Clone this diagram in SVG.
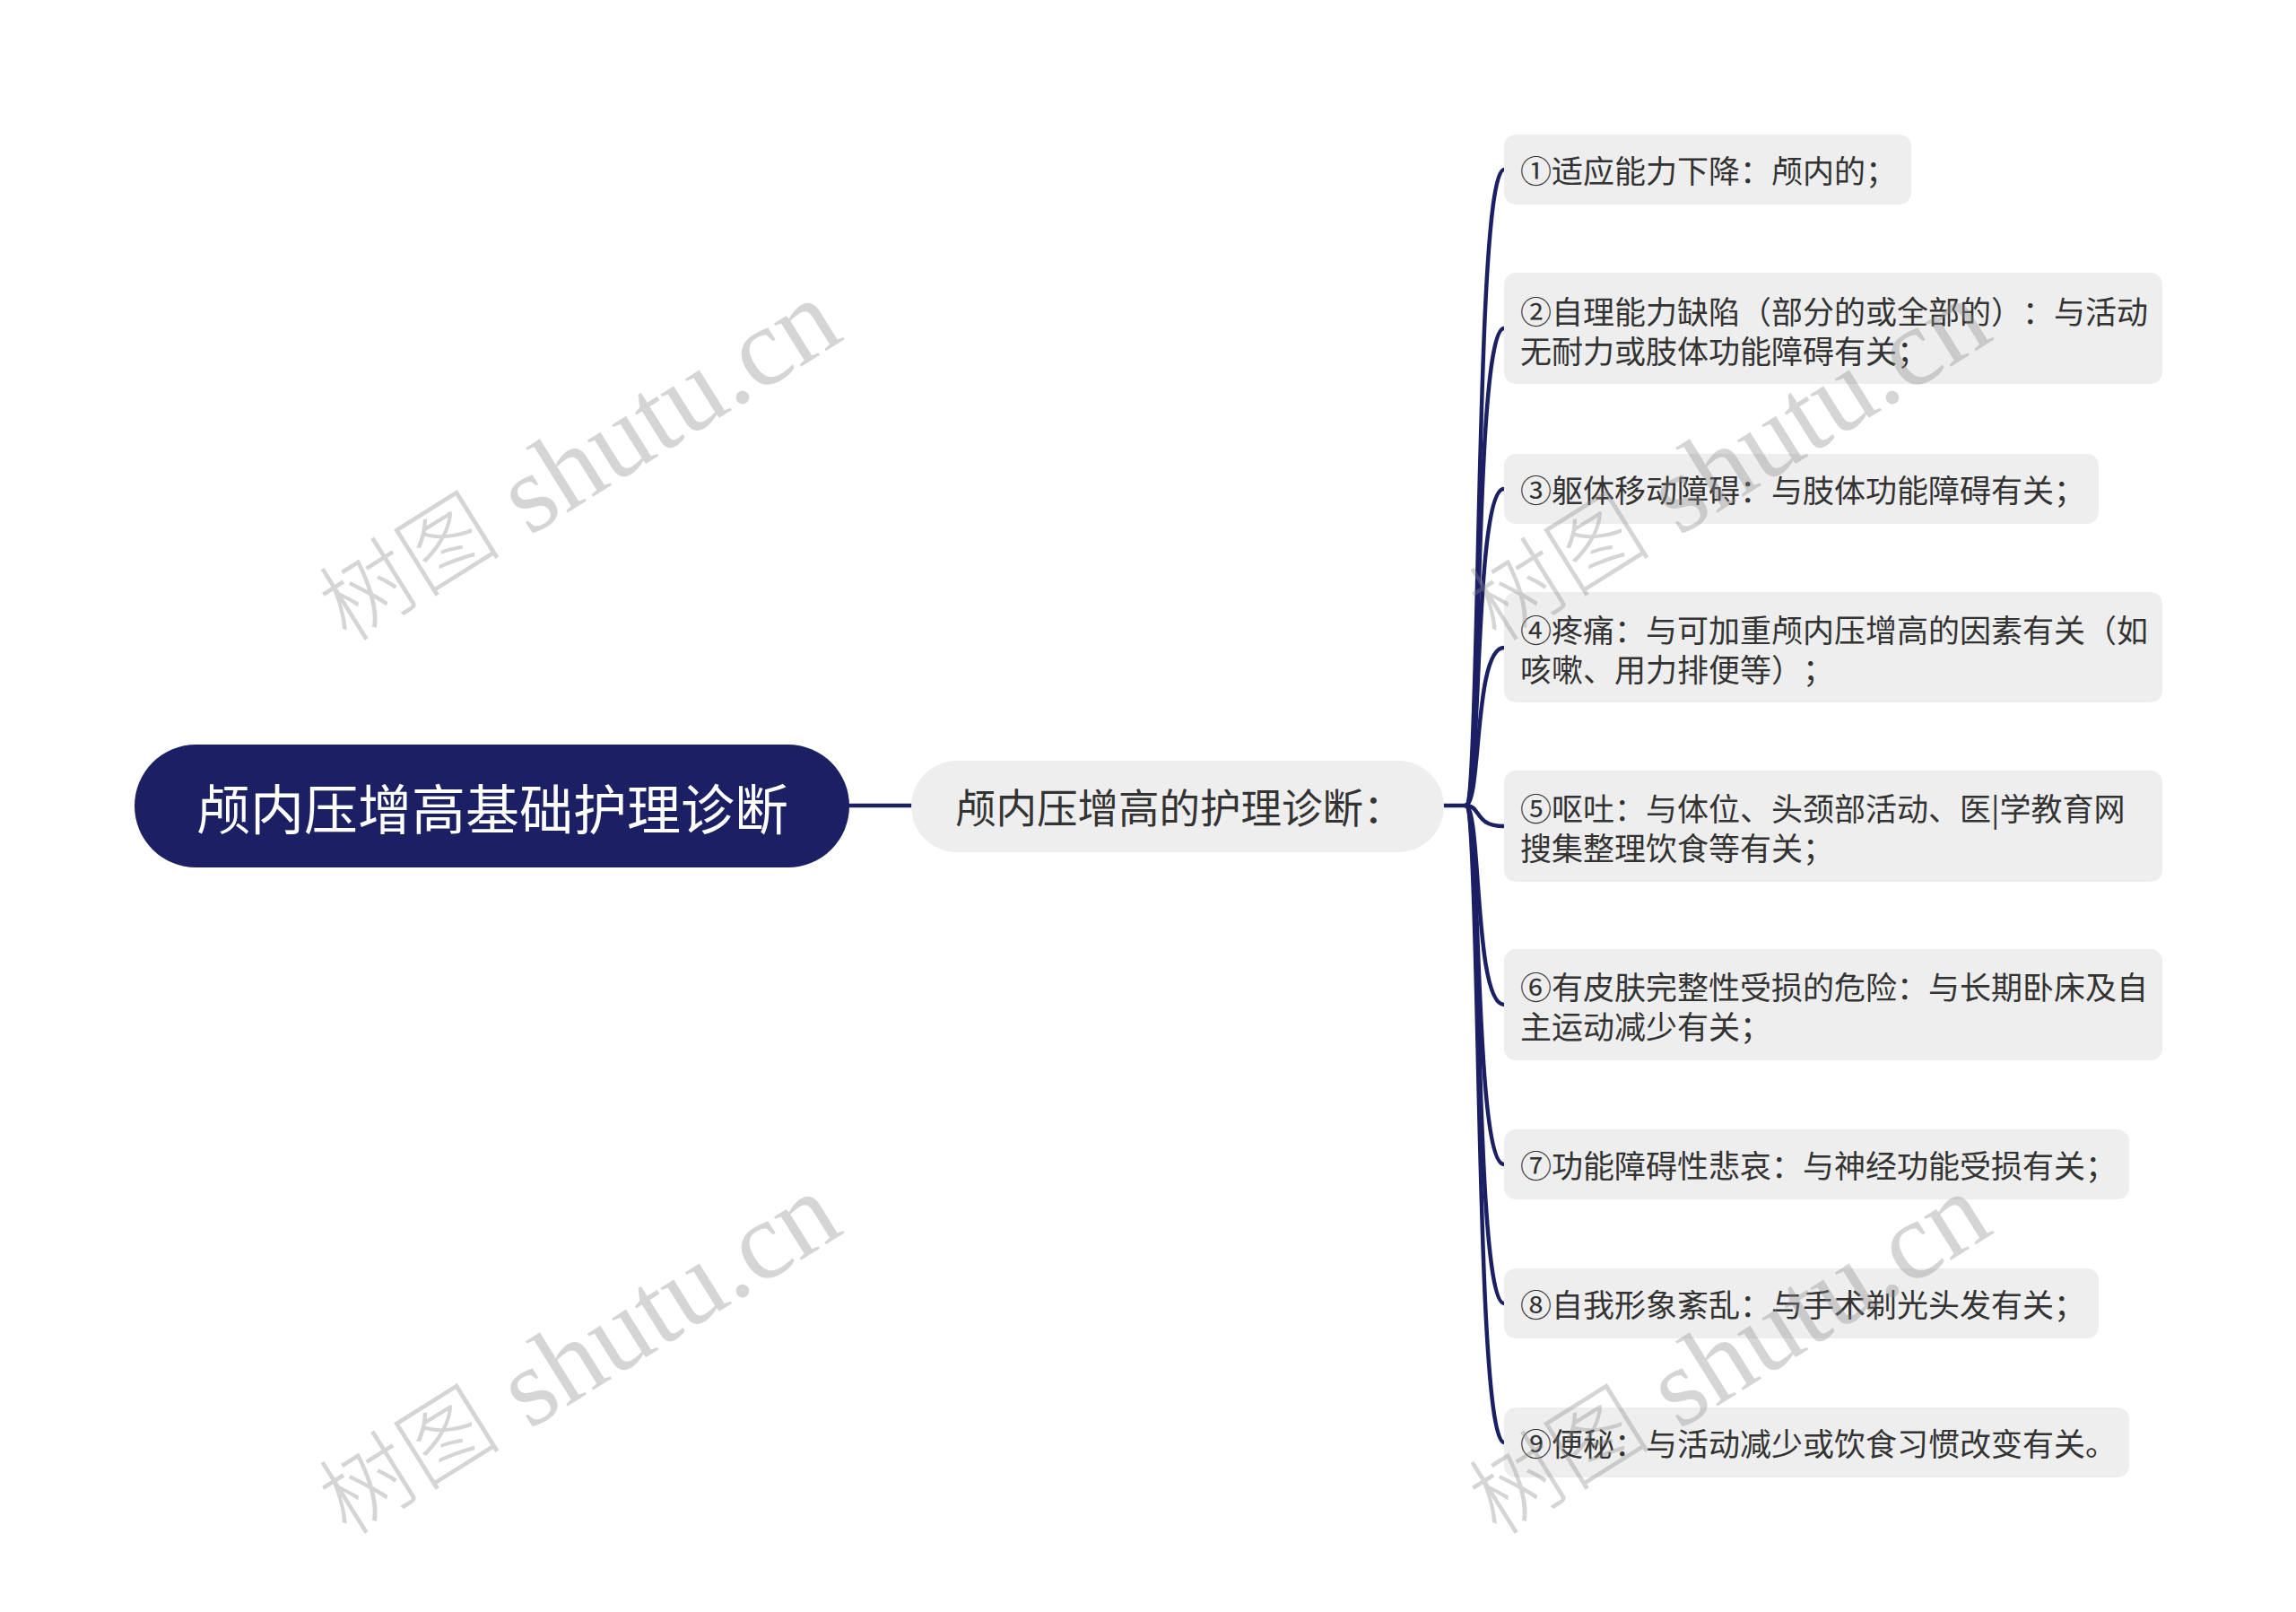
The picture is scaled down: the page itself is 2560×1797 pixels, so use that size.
<svg xmlns="http://www.w3.org/2000/svg" width="2560" height="1797" viewBox="0 0 2560 1797">
<style>
.cn{font-family:"Noto Sans CJK SC","Noto Sans",sans-serif;text-spacing-trim:space-all;font-feature-settings:"halt" 0,"chws" 0;}
.box{fill:#eeeeee;}
.ct{font-size:35px;fill:#333333;}
.link{fill:none;stroke:#1b1f64;stroke-width:4.5;stroke-linecap:round;}
.wm{font-family:"Liberation Serif","Noto Sans CJK SC",serif;font-size:124px;fill:#8a8a8a;fill-opacity:0.36;}
.wmc{font-size:102px;font-weight:300;}
</style>
<rect width="2560" height="1797" fill="#ffffff"/>
<g id="connectors">
<line class="link" x1="947" y1="898" x2="1016" y2="898"/>
<line class="link" x1="1610" y1="898" x2="1634" y2="898"/>
<path class="link" d="M1634 898 C1652 898 1643 189 1677 189"/>
<path class="link" d="M1634 898 C1652 898 1643 366 1677 366"/>
<path class="link" d="M1634 898 C1652 898 1643 545 1677 545"/>
<path class="link" d="M1634 898 C1652 898 1643 722 1677 722"/>
<path class="link" d="M1634 898 C1652 898 1643 921 1677 921"/>
<path class="link" d="M1634 898 C1652 898 1643 1120 1677 1120"/>
<path class="link" d="M1634 898 C1652 898 1643 1298 1677 1298"/>
<path class="link" d="M1634 898 C1652 898 1643 1453 1677 1453"/>
<path class="link" d="M1634 898 C1652 898 1643 1608 1677 1608"/>
</g>
<g id="root">
<rect x="150" y="830" width="797" height="137" rx="68.5" fill="#1b1f64"/>
<text class="cn" x="549" y="898" font-size="60" fill="#ffffff" text-anchor="middle" dominant-baseline="central">颅内压增高基础护理诊断</text>
</g>
<g id="sub">
<rect x="1016" y="848" width="594" height="102" rx="51" class="box"/>
<text class="cn" x="1065" y="898" font-size="45.5" fill="#333333" dominant-baseline="central">颅内压增高的护理诊断：</text>
</g>
<g id="c1">
<rect x="1677" y="150" width="454" height="78" rx="13" class="box"/>
<text class="cn ct" x="1695" y="188" dominant-baseline="central">①适应能力下降：颅内的；</text>
</g>
<g id="c2">
<rect x="1677" y="304" width="734" height="124" rx="13" class="box"/>
<text class="cn ct" x="1695" y="345" dominant-baseline="central">②自理能力缺陷（部分的或全部的）：与活动</text>
<text class="cn ct" x="1695" y="389" dominant-baseline="central">无耐力或肢体功能障碍有关；</text>
</g>
<g id="c3">
<rect x="1677" y="506" width="663" height="78" rx="13" class="box"/>
<text class="cn ct" x="1695" y="544" dominant-baseline="central">③躯体移动障碍：与肢体功能障碍有关；</text>
</g>
<g id="c4">
<rect x="1677" y="660" width="734" height="123" rx="13" class="box"/>
<text class="cn ct" x="1695" y="700" dominant-baseline="central">④疼痛：与可加重颅内压增高的因素有关（如</text>
<text class="cn ct" x="1695" y="744" dominant-baseline="central">咳嗽、用力排便等）；</text>
</g>
<g id="c5">
<rect x="1677" y="859" width="734" height="124" rx="13" class="box"/>
<text class="cn ct" x="1695" y="899" dominant-baseline="central">⑤呕吐：与体位、头颈部活动、医|学教育网</text>
<text class="cn ct" x="1695" y="943" dominant-baseline="central">搜集整理饮食等有关；</text>
</g>
<g id="c6">
<rect x="1677" y="1058" width="734" height="124" rx="13" class="box"/>
<text class="cn ct" x="1695" y="1098" dominant-baseline="central">⑥有皮肤完整性受损的危险：与长期卧床及自</text>
<text class="cn ct" x="1695" y="1142" dominant-baseline="central">主运动减少有关；</text>
</g>
<g id="c7">
<rect x="1677" y="1259" width="697" height="78" rx="13" class="box"/>
<text class="cn ct" x="1695" y="1297" dominant-baseline="central">⑦功能障碍性悲哀：与神经功能受损有关；</text>
</g>
<g id="c8">
<rect x="1677" y="1414" width="663" height="78" rx="13" class="box"/>
<text class="cn ct" x="1695" y="1452" dominant-baseline="central">⑧自我形象紊乱：与手术剃光头发有关；</text>
</g>
<g id="c9">
<rect x="1677" y="1569" width="697" height="78" rx="13" class="box"/>
<text class="cn ct" x="1695" y="1607" dominant-baseline="central">⑨便秘：与活动减少或饮食习惯改变有关。</text>
</g>
<g id="watermarks">
<text class="wm" transform="translate(645 515) rotate(-32)" text-anchor="middle" dominant-baseline="central"><tspan class="wmc">树图</tspan> shutu.cn</text>
<text class="wm" transform="translate(645 1511) rotate(-32)" text-anchor="middle" dominant-baseline="central"><tspan class="wmc">树图</tspan> shutu.cn</text>
<text class="wm" transform="translate(1927 515) rotate(-32)" text-anchor="middle" dominant-baseline="central"><tspan class="wmc">树图</tspan> shutu.cn</text>
<text class="wm" transform="translate(1927 1511) rotate(-32)" text-anchor="middle" dominant-baseline="central"><tspan class="wmc">树图</tspan> shutu.cn</text>
</g>
</svg>
